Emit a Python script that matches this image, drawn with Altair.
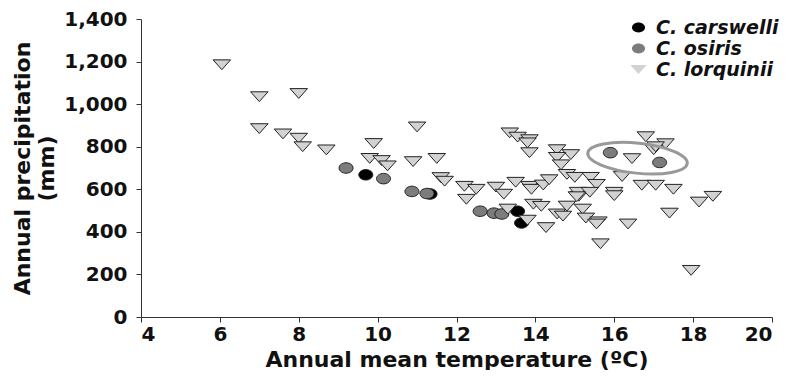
import altair as alt
import pandas as pd

species = ["C. carswelli", "C. osiris", "C. lorquinii"]

car_t = [9.7, 11.33, 13.55, 13.65]
car_p = [668, 578, 497, 442]

osi_t = [9.2, 10.15, 10.87, 11.25, 12.6, 12.95, 13.15, 15.9, 17.15]
osi_p = [700, 650, 590, 580, 497, 488, 484, 772, 726]

lor_t = [6.05, 7.0, 8.0, 7.0, 7.6, 8.0, 8.1, 8.7, 9.9, 9.8, 10.1, 10.25, 10.9, 11.0,
         11.5, 11.6, 11.7, 12.2, 12.5, 12.25, 13.0, 13.2, 13.5, 13.85, 13.9, 14.2,
         14.35, 14.8, 15.0, 15.4, 13.35, 13.55, 13.85, 13.8, 13.85, 14.55, 14.9,
         14.55, 14.65, 13.3, 13.8, 14.27, 13.95, 14.15, 14.55, 14.7, 14.8, 15.2,
         15.1, 15.28, 15.55, 15.08, 15.38, 15.05, 16.0, 16.0, 15.6, 15.55, 16.35,
         15.65, 16.2, 16.7, 17.05, 17.5, 17.4, 18.15, 18.5, 17.95, 16.45, 16.8,
         17.3, 17.0, 17.05]
lor_p = [1185, 1035, 1050, 885, 860, 840, 800, 785, 815, 745, 735, 710, 730, 893,
         745, 655, 638, 614, 600, 553, 610, 577, 633, 614, 600, 620,
         645, 670, 656, 656, 865, 845, 833, 818, 772, 786, 763,
         750, 715, 507, 455, 420, 530, 520, 484, 474, 521, 507,
         567, 465, 623, 586, 586, 565, 586, 570, 447, 437, 437,
         344, 660, 619, 619, 600, 488, 540, 567, 219, 744, 847,
         814, 786, 800]

# highlight ellipse (annotation) centre
ell_t = [16.59]
ell_p = [746]

x_ticks = list(range(4, 21, 2))
y_ticks = list(range(0, 1401, 200))

rows = []
for t, p in zip(car_t, car_p):
    rows.append({"temp": t, "prec": p, "sp": species[0]})
for t, p in zip(osi_t, osi_p):
    rows.append({"temp": t, "prec": p, "sp": species[1]})
for t, p in zip(lor_t, lor_p):
    rows.append({"temp": t, "prec": p, "sp": species[2]})
df = pd.DataFrame(rows)
df["ord"] = range(len(df))

ell_df = pd.DataFrame({"temp": ell_t, "prec": ell_p})

FONT = "DejaVu Sans"
ELLIPSE = "M-1,0A1,0.75,0,1,1,1,0A1,0.75,0,1,1,-1,0Z"
TRI = "M-1.25,-0.7L1.25,-0.7L0,0.7Z"
BIG_ELL = "M-1,0A1,0.3,0,1,1,1,0A1,0.3,0,1,1,-1,0Z"

xs = alt.Scale(domain=[4, 20], nice=False, zero=False)
ys = alt.Scale(domain=[0, 1400], nice=False, zero=False)

points = alt.Chart(df).mark_point(
    filled=True, stroke="#222222", strokeWidth=1, size=196, opacity=1
).encode(
    x=alt.X("temp:Q", scale=xs,
            axis=alt.Axis(values=x_ticks, title="Annual mean temperature (ºC)")),
    y=alt.Y("prec:Q", scale=ys,
            axis=alt.Axis(values=y_ticks, format=",.0f",
                          title=["Annual precipitation", "(mm)"])),
    fill=alt.Fill("sp:N", scale=alt.Scale(domain=species,
                                          range=["#000000", "#7c7c7c", "#d2d2d2"]),
                  legend=alt.Legend(title=None, orient="none", legendX=488, legendY=-1)),
    shape=alt.Shape("sp:N", scale=alt.Scale(domain=species,
                                            range=[ELLIPSE, ELLIPSE, TRI])),
    order=alt.Order("ord:Q"),
)

ellipse = alt.Chart(ell_df).mark_point(
    shape=BIG_ELL, size=10000, filled=False, stroke="#999999", strokeWidth=3,
    angle=6, opacity=1
).encode(
    x=alt.X("temp:Q", scale=xs),
    y=alt.Y("prec:Q", scale=ys),
)

chart = alt.layer(points, ellipse).properties(
    width=631, height=298,
    padding={"left": 3, "top": 1, "right": 0, "bottom": 0},
).configure_view(stroke=None).configure_axis(
    grid=False,
    domainColor="#333333",
    tickColor="#333333",
    tickSize=5,
    labelFont=FONT, labelFontSize=20, labelFontWeight="bold", labelColor="#111111",
    titleFont=FONT, titleFontSize=22, titleFontWeight="bold", titleColor="#111111",
).configure_axisY(
    labelPadding=9, titlePadding=5, titleLineHeight=24,
).configure_axisX(
    labelPadding=2, titlePadding=5,
).configure_legend(
    labelFont=FONT, labelFontSize=19, labelFontWeight="bold", labelFontStyle="italic",
    labelColor="#111111", symbolSize=170, symbolStrokeColor="#222222",
    symbolStrokeWidth=1, rowPadding=1, labelOffset=8, padding=0,
)

chart.save("out.html", embed_options={"renderer": "svg", "actions": False})
